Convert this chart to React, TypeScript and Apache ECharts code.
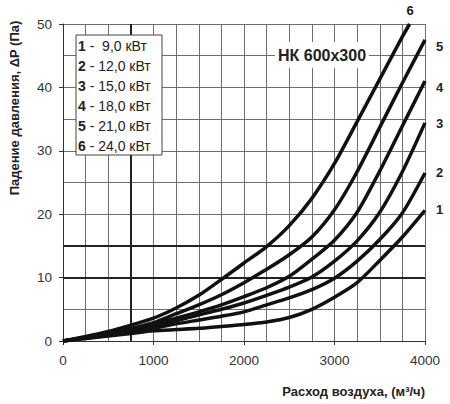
import { useEffect, useRef } from "react";
import * as echarts from "echarts";

// air flow, m3/h
const AIRFLOW = [0, 250, 500, 750, 1000, 1250, 1500, 1750, 2000, 2250, 2500, 2750, 3000, 3250, 3500, 3750, 4000];
// curve 6 leaves the plot at the top
const AIRFLOW_6 = [0, 250, 500, 750, 1000, 1250, 1500, 1750, 2000, 2250, 2500, 2750, 3000, 3250, 3500, 3750, 3830];

// pressure drop, Pa
const DP_1 = [0, 0.4, 0.8, 1.2, 1.6, 1.8, 2.0, 2.3, 2.6, 3.0, 3.7, 5.0, 6.9, 9.2, 12.7, 16.4, 20.6];
const DP_2 = [0, 0.45, 0.9, 1.4, 2.0, 2.7, 3.3, 3.9, 4.6, 5.7, 6.8, 8.1, 9.9, 12.6, 16.0, 20.2, 26.5];
const DP_3 = [0, 0.5, 1.0, 1.6, 2.3, 3.2, 4.1, 5.0, 6.0, 7.2, 8.5, 10.1, 12.6, 15.8, 20.3, 26.7, 34.4];
const DP_4 = [0, 0.55, 1.1, 1.8, 2.6, 3.6, 4.6, 5.7, 7.0, 8.4, 10.2, 12.9, 15.9, 20.3, 26.8, 33.9, 41.0];
const DP_5 = [0, 0.6, 1.25, 2.0, 2.9, 4.3, 5.7, 7.3, 9.2, 11.3, 13.6, 16.4, 20.7, 26.7, 33.7, 40.7, 47.5];
const DP_6 = [0, 0.7, 1.5, 2.5, 3.6, 5.2, 7.2, 9.7, 12.3, 14.9, 18.2, 22.5, 28.0, 34.6, 41.3, 48.0, 50.0];

const CURVE_NO = ["1", "2", "3", "4", "5", "6"];
const POWER = [" 9,0", "12,0", "15,0", "18,0", "21,0", "24,0"];

// darker reference lines
const MARK_X = [750];
const MARK_Y = [10, 15];

const FONT = "'Liberation Sans', Arial, sans-serif";
const INK = "#111";
const GRID = "#6e6e6e";

// legend box, px
const BOX = { x: 76, y: 35, width: 86, height: 120 };

export default function App() {
  const ref = useRef<HTMLDivElement>(null);

  useEffect(() => {
    if (!ref.current) return;
    const chart = echarts.init(ref.current, null, { renderer: "svg" });

    const curves = [
      { x: AIRFLOW, y: DP_1, off: [3, -1] },
      { x: AIRFLOW, y: DP_2, off: [3, 0] },
      { x: AIRFLOW, y: DP_3, off: [3, 1] },
      { x: AIRFLOW, y: DP_4, off: [3, 6] },
      { x: AIRFLOW, y: DP_5, off: [3, 7] },
      { x: AIRFLOW_6, y: DP_6, off: [-11, -14] },
    ];

    const series: any[] = curves.map((c, i) => ({
      name: CURVE_NO[i],
      type: "line",
      data: c.x.map((x, j) => [x, c.y[j]]),
      smooth: 0.25,
      symbol: "none",
      z: 5,
      lineStyle: { color: INK, width: 3.5 },
      endLabel: {
        show: true,
        formatter: CURVE_NO[i],
        offset: c.off,
        color: "#222",
        fontFamily: FONT,
        fontWeight: "bold",
        fontSize: 13,
      },
    }));

    const markSeries = (xData: any[]) => ({
      id: "marks",
      type: "line",
      data: [],
      silent: true,
      z: 2,
      markLine: {
        silent: true,
        symbol: "none",
        label: { show: false },
        emphasis: { disabled: true },
        animation: false,
        lineStyle: { color: "#222", width: 2, type: "solid" },
        data: [...xData, ...MARK_Y.map((v) => ({ yAxis: v }))],
      },
    });

    const legendLines = CURVE_NO.map((n, i) => `{b|${n}} - ${POWER[i]} кВт`).join("\n");
    const split = { show: true, lineStyle: { color: GRID, width: 1, type: "solid" } };

    chart.setOption({
      animation: false,
      grid: { left: 63, right: 25, top: 24, bottom: 63 },
      xAxis: {
        type: "value",
        min: 0,
        max: 4000,
        interval: 1000,
        axisLine: { show: true, onZero: false, lineStyle: { color: "#333", width: 1 } },
        axisTick: { show: true, length: 4, lineStyle: { color: "#333", width: 1 } },
        axisLabel: { color: "#333", fontFamily: FONT, fontSize: 13.5, margin: 12, formatter: (v: number) => String(v) },
        splitLine: split,
        minorTick: { show: true, splitNumber: 4, length: 0 },
        minorSplitLine: split,
      },
      yAxis: {
        type: "value",
        min: 0,
        max: 50,
        interval: 10,
        axisLine: { show: true, onZero: false, lineStyle: { color: "#333", width: 1 } },
        axisTick: { show: true, length: 4, lineStyle: { color: "#333", width: 1 } },
        axisLabel: { color: "#333", fontFamily: FONT, fontSize: 13.5, margin: 11, formatter: (v: number) => String(v) },
        splitLine: split,
        minorTick: { show: true, splitNumber: 2, length: 0 },
        minorSplitLine: split,
      },
      graphic: {
        elements: [
          {
            type: "text",
            x: 14,
            y: 108,
            rotation: Math.PI / 2,
            style: {
              text: "Падение давления, ΔP (Па)",
              fill: "#222",
              font: `bold 13px ${FONT}`,
              textAlign: "center",
              textVerticalAlign: "middle",
            },
          },
          {
            type: "text",
            x: 425,
            y: 391,
            style: {
              text: "Расход воздуха, (м³/ч)",
              fill: "#222",
              font: `bold 13px ${FONT}`,
              textAlign: "right",
              textVerticalAlign: "middle",
            },
          },
          {
            type: "rect",
            z: 1000,
            shape: BOX,
            style: { fill: "#ffffff", stroke: "#444", lineWidth: 1, opacity: 1 },
          },
          {
            type: "text",
            z: 1001,
            x: BOX.x + 2,
            y: BOX.y + 1,
            style: {
              text: legendLines,
              fill: "#222",
              font: `14px ${FONT}`,
              lineHeight: 20,
              rich: {
                b: { fontWeight: "bold", fontSize: 14, fontFamily: FONT, fill: "#222", lineHeight: 20 },
              },
            },
          },
          {
            type: "text",
            x: 322,
            y: 55,
            z: 1000,
            style: {
              text: "НК 600x300",
              fill: "#222",
              font: `bold 16px ${FONT}`,
              textAlign: "center",
              textVerticalAlign: "middle",
              backgroundColor: "#ffffff",
              padding: [5, 3],
            },
          },
        ],
      },
      series: [...series, markSeries([])],
    });

    // vertical 750 line is broken where the legend box sits
    const yTop = chart.convertFromPixel({ gridIndex: 0 }, [0, BOX.y])[1];
    const yBottom = chart.convertFromPixel({ gridIndex: 0 }, [0, BOX.y + BOX.height])[1];
    const xSegments = MARK_X.flatMap((v) => [
      [{ coord: [v, 0] }, { coord: [v, yBottom] }],
      [{ coord: [v, yTop] }, { coord: [v, 50] }],
    ]);
    chart.setOption({ series: [...series, markSeries(xSegments)] });

    return () => chart.dispose();
  }, []);

  return (
    <div style={{ position: "absolute", left: 0, top: 0, width: 450, height: 404, background: "#fff" }}>
      <div ref={ref} style={{ width: 450, height: 404 }} />
    </div>
  );
}
